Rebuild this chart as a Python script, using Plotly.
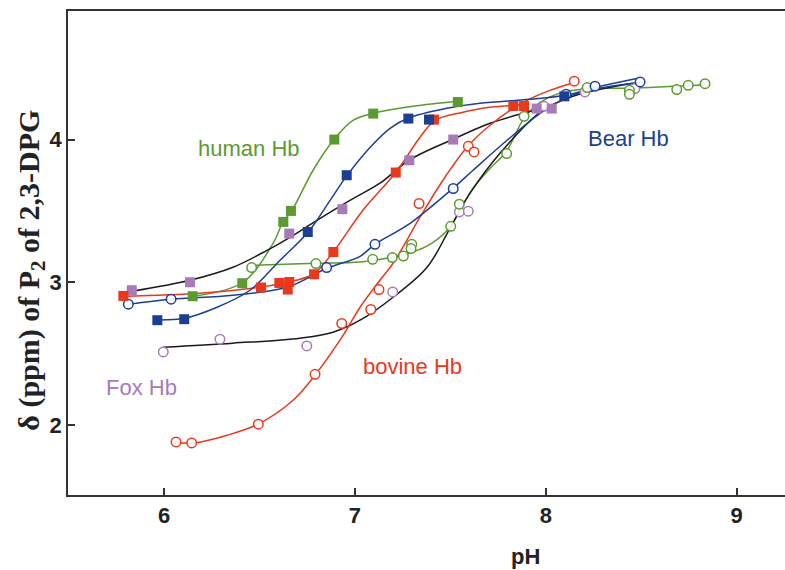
import plotly.graph_objects as go

# ---------------- data (pH, chemical shift delta in ppm) ----------------
# human Hb, filled squares (green)
human_sq_ph = [6.15, 6.41, 6.625, 6.665, 6.892, 7.096, 7.539]
human_sq_d = [2.902, 2.993, 3.423, 3.500, 4.000, 4.182, 4.263]
human_sq_fit_ph = [6.157, 6.414, 6.571, 6.623, 6.671, 6.781, 6.891, 6.990, 7.095, 7.304, 7.540]
human_sq_fit_d = [2.902, 3.000, 3.273, 3.421, 3.505, 3.785, 4.002, 4.135, 4.184, 4.233, 4.268]

# human Hb, open circles (green)
human_ci_ph = [6.459, 6.796, 7.093, 7.196, 7.254, 7.298, 7.294, 7.502, 7.547, 7.795, 7.886,
               8.217, 8.438, 8.438, 8.686, 8.746, 8.834]
human_ci_d = [3.103, 3.131, 3.161, 3.173, 3.184, 3.266, 3.236, 3.392, 3.547, 3.902, 4.163,
              4.364, 4.345, 4.317, 4.350, 4.380, 4.392]
human_ci_fit_ph = [6.456, 6.796, 7.027, 7.194, 7.300, 7.400, 7.502, 7.547, 7.620, 7.710, 7.795,
                   7.886, 7.970, 8.060, 8.200, 8.430, 8.840]
human_ci_fit_d = [3.119, 3.133, 3.142, 3.175, 3.210, 3.270, 3.392, 3.500, 3.660, 3.800, 3.920,
                  4.150, 4.260, 4.320, 4.355, 4.360, 4.385]

# Bear Hb, filled squares (blue)
bear_sq_ph = [5.965, 6.106, 6.753, 6.957, 7.280, 7.388, 8.097]
bear_sq_d = [2.734, 2.741, 3.352, 3.750, 4.147, 4.140, 4.303]
bear_sq_fit_ph = [5.969, 6.105, 6.278, 6.450, 6.608, 6.754, 6.870, 6.959, 7.079, 7.184, 7.278,
                  7.482, 7.655, 7.917, 8.101, 8.284, 8.483]
bear_sq_fit_d = [2.735, 2.747, 2.825, 2.944, 3.154, 3.350, 3.574, 3.749, 3.945, 4.079, 4.149,
                 4.219, 4.254, 4.282, 4.310, 4.373, 4.430]

# Bear Hb, open circles (blue)
bear_ci_ph = [5.813, 6.037, 6.852, 7.105, 7.515, 8.106, 8.258, 8.494]
bear_ci_d = [2.846, 2.881, 3.103, 3.266, 3.657, 4.317, 4.374, 4.404]
bear_ci_fit_ph = [5.817, 6.037, 6.361, 6.644, 6.854, 7.027, 7.105, 7.289, 7.514, 7.619, 7.797,
                  7.970, 8.101, 8.232, 8.493]
bear_ci_fit_d = [2.846, 2.881, 2.909, 2.965, 3.098, 3.182, 3.266, 3.413, 3.659, 3.785, 3.995,
                 4.184, 4.289, 4.345, 4.401]

# bovine Hb, filled squares (red)
bovine_sq_ph = [5.787, 6.508, 6.604, 6.656, 6.648, 6.786, 6.887, 7.214, 7.414, 7.830, 7.886]
bovine_sq_d = [2.904, 2.963, 2.995, 3.002, 2.949, 3.056, 3.212, 3.769, 4.140, 4.235, 4.235]
bovine_sq_fit_ph = [5.785, 6.189, 6.503, 6.618, 6.781, 6.885, 7.042, 7.215, 7.341, 7.420, 7.566,
                    7.708, 7.891]
bovine_sq_fit_d = [2.902, 2.923, 2.965, 2.993, 3.056, 3.210, 3.505, 3.771, 4.016, 4.135, 4.191,
                   4.226, 4.240]

# bovine Hb, open circles (red)
bovine_ci_ph = [6.063, 6.145, 6.494, 6.791, 6.931, 7.083, 7.126, 7.336, 7.594, 7.624, 8.149]
bovine_ci_d = [1.881, 1.874, 2.005, 2.355, 2.711, 2.809, 2.949, 3.552, 3.953, 3.913, 4.409]
bovine_ci_fit_ph = [6.063, 6.147, 6.330, 6.492, 6.676, 6.791, 6.932, 7.027, 7.131, 7.200, 7.341,
                    7.461, 7.587, 7.708, 7.881, 8.022, 8.153]
bovine_ci_fit_d = [1.879, 1.872, 1.928, 2.005, 2.173, 2.349, 2.615, 2.825, 3.014, 3.133, 3.456,
                   3.715, 3.946, 4.100, 4.261, 4.345, 4.402]

# Fox Hb, filled squares (purple) with black fit
fox_sq_ph = [5.831, 6.136, 6.656, 6.934, 7.285, 7.515, 7.952, 8.031]
fox_sq_d = [2.944, 3.000, 3.341, 3.512, 3.855, 4.000, 4.217, 4.217]
fox_sq_fit_ph = [5.832, 6.136, 6.361, 6.540, 6.660, 6.801, 6.974, 7.131, 7.283, 7.514, 7.708,
                 7.881, 7.970, 8.040]
fox_sq_fit_d = [2.937, 3.014, 3.105, 3.224, 3.315, 3.434, 3.574, 3.694, 3.855, 4.002, 4.114,
                4.184, 4.212, 4.222]

# Fox Hb, open circles (purple) with black fit
fox_ci_ph = [5.996, 6.293, 6.748, 7.198, 7.547, 7.594, 7.991, 8.205, 8.467]
fox_ci_d = [2.512, 2.601, 2.554, 2.932, 3.493, 3.498, 4.233, 4.334, 4.357]
fox_ci_fit_ph = [5.995, 6.361, 6.712, 6.885, 7.027, 7.200, 7.378, 7.498, 7.603, 7.760, 7.970,
                 8.142, 8.457]
fox_ci_fit_d = [2.545, 2.573, 2.608, 2.650, 2.734, 2.895, 3.105, 3.378, 3.624, 3.904, 4.191,
                4.303, 4.394]

x_ticks = [6, 7, 8, 9]
y_ticks = [2, 3, 4]

GREEN = "#5b9a31"
BLUE = "#1c3f94"
RED = "#e8391d"
PURPLE = "#a77bb8"
BLACK = "#1a1a1a"

fig = go.Figure()

fits = [
    (human_sq_fit_ph, human_sq_fit_d, GREEN),
    (human_ci_fit_ph, human_ci_fit_d, GREEN),
    (fox_sq_fit_ph, fox_sq_fit_d, BLACK),
    (fox_ci_fit_ph, fox_ci_fit_d, BLACK),
    (bovine_sq_fit_ph, bovine_sq_fit_d, RED),
    (bovine_ci_fit_ph, bovine_ci_fit_d, RED),
    (bear_sq_fit_ph, bear_sq_fit_d, BLUE),
    (bear_ci_fit_ph, bear_ci_fit_d, BLUE),
]
for xs, ys, c in fits:
    fig.add_trace(go.Scatter(x=xs, y=ys, mode="lines",
                             line=dict(color=c, width=1.5, shape="spline", smoothing=1.0),
                             hoverinfo="skip", showlegend=False))

markers = [
    (fox_ci_ph, fox_ci_d, PURPLE, "open"),
    (human_ci_ph, human_ci_d, GREEN, "open"),
    (bear_ci_ph, bear_ci_d, BLUE, "open"),
    (bovine_ci_ph, bovine_ci_d, RED, "open"),
    (fox_sq_ph, fox_sq_d, PURPLE, "sq"),
    (human_sq_ph, human_sq_d, GREEN, "sq"),
    (bovine_sq_ph, bovine_sq_d, RED, "sq"),
    (bear_sq_ph, bear_sq_d, BLUE, "sq"),
]
for xs, ys, c, kind in markers:
    if kind == "sq":
        mk = dict(symbol="square", size=10, color=c, line=dict(width=0))
    else:
        mk = dict(symbol="circle", size=9.5, color="rgba(255,255,255,0.9)",
                  line=dict(color=c, width=1.5))
    fig.add_trace(go.Scatter(x=xs, y=ys, mode="markers", marker=mk, showlegend=False))

labels = [
    ("human Hb", 6.445, 3.936, GREEN),
    ("Bear Hb", 8.431, 4.009, BLUE),
    ("bovine Hb", 7.302, 2.411, RED),
    ("Fox Hb", 5.880, 2.264, PURPLE),
]
for t, x, y, c in labels:
    fig.add_annotation(x=x, y=y, xref="x", yref="y", text=t, showarrow=False,
                       font=dict(family="Liberation Sans, Arial", size=22, color=c),
                       xanchor="center", yanchor="middle")

fig.add_annotation(x=7.896, y=-0.128, xref="x", yref="paper", text="<b>pH</b>",
                   showarrow=False, font=dict(family="Liberation Sans, Arial", size=22, color="#222"),
                   xanchor="center", yanchor="middle")
fig.add_annotation(x=-0.052, y=0.465, xref="paper", yref="paper",
                   text="<b>δ (ppm) of P<sub>2</sub> of 2,3-DPG</b>", textangle=-90,
                   showarrow=False,
                   font=dict(family="Liberation Serif, Times New Roman", size=30, color="#222"),
                   xanchor="center", yanchor="middle")

axis_common = dict(showgrid=False, zeroline=False, showline=True, linecolor="#333",
                   linewidth=1.5, ticks="inside", ticklen=7, tickwidth=1.5, tickcolor="#333",
                   automargin=False,
                   tickfont=dict(family="Liberation Sans, Arial", size=22, color="#222",
                                 weight="bold"))
fig.update_layout(
    width=785, height=570,
    margin=dict(l=68, r=0, t=11, b=75),
    paper_bgcolor="white", plot_bgcolor="white",
    xaxis=dict(range=[5.497, 9.253], tickvals=x_ticks, mirror=True, **axis_common),
    yaxis=dict(range=[1.509, 4.901], tickvals=y_ticks, mirror=False, **axis_common),
)

fig.write_html(
    "out.html",
    config={"displayModeBar": False},
    post_script="document.body.style.margin='0';document.body.style.padding='0';"
                "document.body.style.overflow='hidden';",
)
